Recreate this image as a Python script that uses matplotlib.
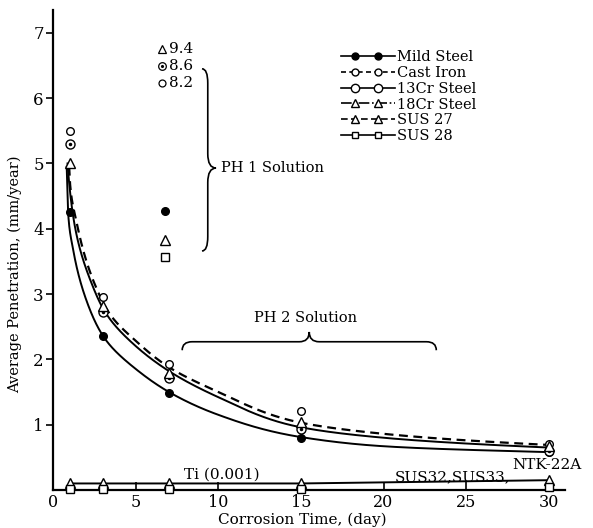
import numpy as np
import matplotlib
matplotlib.use("Agg")
import matplotlib.pyplot as plt
from matplotlib.path import Path
from matplotlib.patches import PathPatch
from matplotlib.lines import Line2D
from matplotlib.legend_handler import HandlerLine2D

plt.rcParams['font.family'] = ['DejaVu Serif']

# ---- data ----
days = [1, 3, 7, 15, 30]
mild_steel = [4.26, 2.36, 1.49, 0.80, 0.58]
cast_iron = [5.50, 2.96, 1.93, 1.21, 0.70]
cr13_steel = [5.30, 2.73, 1.72, 0.93, 0.60]
cr18_steel = [5.00, 2.82, 1.79, 1.04, 0.67]
sus27 = [0.10, 0.10, 0.10, 0.10, 0.15]
sus28 = [0.02, 0.02, 0.02, 0.02, 0.04]

# PH1 solution results (at 7 days)
ph1_day = 7
ph1_mild = 4.28
ph1_cr18 = 3.83
ph1_sus28 = 3.57
ph1_offscale_labels = ["9.4", "8.6", "8.2"]

# hand-drawn trend curves: points
lower_days = [0.8, 0.9, 1.2, 2, 3, 5, 7, 10, 15, 20, 30]
curve_lower = [4.95, 4.2, 3.67, 2.9, 2.36, 1.85, 1.5, 1.15, 0.81, 0.67, 0.58]
upper_days = [0.85, 0.95, 1.2, 2.3, 3, 5, 7, 10, 15, 20, 30]
curve_upper = [5.0, 4.7, 4.18, 3.17, 2.78, 2.2, 1.82, 1.42, 0.96, 0.8, 0.65]
dashed_days = [0.95, 1.0, 1.4, 2.47, 3.4, 5, 7, 10, 15, 20, 30]
curve_dashed = [4.95, 4.7, 4.1, 3.17, 2.7, 2.28, 1.88, 1.5, 1.03, 0.86, 0.69]

xticks = [0, 5, 10, 15, 20, 25, 30]
yticks = [1, 2, 3, 4, 5, 6, 7]


def pchip(x, y, xn):
    x = np.asarray(x, float)
    y = np.asarray(y, float)
    h = np.diff(x)
    d = np.diff(y) / h
    m = np.zeros_like(y)
    for k in range(1, len(x) - 1):
        if d[k - 1] * d[k] > 0:
            w1 = 2 * h[k] + h[k - 1]
            w2 = h[k] + 2 * h[k - 1]
            m[k] = (w1 + w2) / (w1 / d[k - 1] + w2 / d[k])
    m[0] = d[0]
    m[-1] = d[-1]
    idx = np.clip(np.searchsorted(x, xn) - 1, 0, len(x) - 2)
    t = (xn - x[idx]) / h[idx]
    h00 = 2 * t**3 - 3 * t**2 + 1
    h10 = t**3 - 2 * t**2 + t
    h01 = -2 * t**3 + 3 * t**2
    h11 = t**3 - t**2
    return h00 * y[idx] + h10 * h[idx] * m[idx] + h01 * y[idx + 1] + h11 * h[idx] * m[idx + 1]


def smooth(x, y):
    lx = np.log(np.asarray(x, float))
    ly = np.log(np.asarray(y, float))
    ln = np.linspace(lx[0], lx[-1], 1000)
    return np.exp(ln), np.exp(pchip(lx, ly, ln))


fig = plt.figure(figsize=(5.93, 5.28), dpi=100)
ax = fig.add_axes([0.0902, 0.072, 0.8626, 0.909])
ax.set_xlim(0, 31)
ax.set_ylim(0, 7.35)

for s in ['top', 'right']:
    ax.spines[s].set_visible(False)
for s in ['left', 'bottom']:
    ax.spines[s].set_linewidth(1.6)

ax.set_xticks(xticks)
ax.set_xticklabels([str(t) for t in xticks], fontsize=11.5)
ax.set_yticks(yticks)
ax.set_yticklabels([str(t) for t in yticks], fontsize=12)
ax.tick_params(axis='x', direction='in', length=6, width=1.2, pad=3)
ax.tick_params(axis='y', direction='out', length=5, width=1.2, pad=2)

ax.set_xlabel("Corrosion Time, (day)", fontsize=11)
ax.set_ylabel("Average Penetration, (mm/year)", fontsize=10.5)
ax.xaxis.set_label_coords(0.486, -0.047)
ax.yaxis.set_label_coords(-0.062, 0.45)

# trend curves
ax.plot(*smooth(lower_days, curve_lower), color='black', lw=1.4)
ax.plot(*smooth(upper_days, curve_upper), color='black', lw=1.4)
ax.plot(*smooth(dashed_days, curve_dashed), color='black', lw=1.6, ls=(0, (4, 2.5)))
ax.plot(days, sus27, color='black', lw=1.4, clip_on=False)

ms = 5.5
kw = dict(ls='none', clip_on=False, zorder=5)
ax.plot(days, mild_steel, marker='o', color='black', ms=ms, **kw)
ax.plot(days, cast_iron, marker='o', mfc='white', mec='black', ms=ms, mew=1.0, **kw)
ax.plot(days, cr13_steel, marker='o', mfc='white', mec='black', ms=ms + 1, mew=1.0, **kw)
ax.plot(days, cr13_steel, marker='.', color='black', ms=3, **kw)
ax.plot(days, cr18_steel, marker='^', mfc='white', mec='black', ms=ms + 1, mew=1.0, **kw)
ax.plot(days, sus27, marker='^', mfc='white', mec='black', ms=ms + 1, mew=1.0, **kw)
ax.plot(days, sus28, marker='s', mfc='white', mec='black', ms=ms, mew=1.0, **kw)

# PH1 points
ax.plot([ph1_day - 0.25], [ph1_mild], marker='o', color='black', ms=ms, **kw)
ax.plot([ph1_day - 0.25], [ph1_cr18], marker='^', mfc='white', mec='black', ms=ms + 1, mew=1.0, **kw)
ax.plot([ph1_day - 0.25], [ph1_sus28], marker='s', mfc='white', mec='black', ms=ms, mew=1.0, **kw)

# off-scale labels
off_y = [6.75, 6.49, 6.24]
ax.plot([6.6], [off_y[0]], marker='^', mfc='white', mec='black', ms=5.5, mew=0.9, **kw)
ax.plot([6.6], [off_y[1]], marker='o', mfc='white', mec='black', ms=5.5, mew=0.9, **kw)
ax.plot([6.6], [off_y[1]], marker='.', color='black', ms=2.5, **kw)
ax.plot([6.6], [off_y[2]], marker='o', mfc='white', mec='black', ms=5, mew=0.9, **kw)
for yy, lab in zip(off_y, ph1_offscale_labels):
    ax.text(7.0, yy, lab, fontsize=11, va='center', ha='left')


def hbrace(ax, x0, x1, y, h, h2, w):
    xm = (x0 + x1) / 2
    verts = [(x0, y - h2), (x0, y), (x0 + w, y),
             (xm - w, y), (xm, y), (xm, y + h),
             (xm, y), (xm + w, y),
             (x1 - w, y), (x1, y), (x1, y - h2)]
    codes = [Path.MOVETO, Path.CURVE3, Path.CURVE3,
             Path.LINETO, Path.CURVE3, Path.CURVE3,
             Path.CURVE3, Path.CURVE3,
             Path.LINETO, Path.CURVE3, Path.CURVE3]
    ax.add_patch(PathPatch(Path(verts, codes), fc='none', ec='black', lw=1.2))


def vbrace(ax, x, y0, y1, ym, h, h2, w):
    verts = [(x - h2, y1), (x, y1), (x, y1 - w),
             (x, ym + w), (x, ym), (x + h, ym),
             (x, ym), (x, ym - w),
             (x, y0 + w), (x, y0), (x - h2, y0)]
    codes = [Path.MOVETO, Path.CURVE3, Path.CURVE3,
             Path.LINETO, Path.CURVE3, Path.CURVE3,
             Path.CURVE3, Path.CURVE3,
             Path.LINETO, Path.CURVE3, Path.CURVE3]
    ax.add_patch(PathPatch(Path(verts, codes), fc='none', ec='black', lw=1.2))


vbrace(ax, 9.35, 3.66, 6.45, 4.93, 0.5, 0.35, 0.22)
ax.text(10.15, 4.93, "PH 1 Solution", fontsize=10.5, va='center', ha='left')

hbrace(ax, 7.8, 23.2, 2.27, 0.15, 0.13, 0.6)
ax.text(15.3, 2.63, "PH 2 Solution", fontsize=10.5, va='center', ha='center')

ax.text(10.2, 0.24, "Ti (0.001)", fontsize=11, va='center', ha='center')
ax.text(20.7, 0.2, "SUS32,SUS33,", fontsize=11, va='center', ha='left')
ax.text(27.8, 0.38, "NTK-22A", fontsize=11, va='center', ha='left')


# legend with markers inset from the line ends
class InsetHandler(HandlerLine2D):
    def create_artists(self, legend, orig_handle, xdescent, ydescent,
                       width, height, fontsize, trans):
        x0 = -xdescent
        xdata = np.array([x0, x0 + 0.26 * width, x0 + 0.69 * width, x0 + width])
        ydata = np.full_like(xdata, (height - ydescent) / 2)
        legline = Line2D(xdata, ydata)
        self.update_prop(legline, orig_handle, legend)
        legline.set_markevery([1, 2])
        legline.set_transform(trans)
        return [legline]


handles = [
    Line2D([], [], color='black', lw=1.2, marker='o', ms=5),
    Line2D([], [], color='black', lw=1.2, ls=(0, (3, 2)), marker='o', mfc='white', ms=5),
    Line2D([], [], color='black', lw=1.2, marker='o', mfc='white', ms=6),
    Line2D([], [], color='black', lw=1.2, ls='-.', marker='^', mfc='white', ms=6),
    Line2D([], [], color='black', lw=1.2, ls=(0, (4, 2)), marker='^', mfc='white', ms=6),
    Line2D([], [], color='black', lw=1.2, marker='s', mfc='white', ms=5),
]
labels = ["Mild Steel", "Cast Iron", "13Cr Steel", "18Cr Steel", "SUS 27", "SUS 28"]
hmap = {h: InsetHandler() for h in handles}
leg = ax.legend(handles, labels, loc='upper left', bbox_to_anchor=(0.562, 0.916),
                frameon=False, handlelength=3.7, handletextpad=0.15,
                labelspacing=0.12, fontsize=10.5, borderaxespad=0, borderpad=0,
                handler_map=hmap)

fig.savefig("out.png", dpi=100)
